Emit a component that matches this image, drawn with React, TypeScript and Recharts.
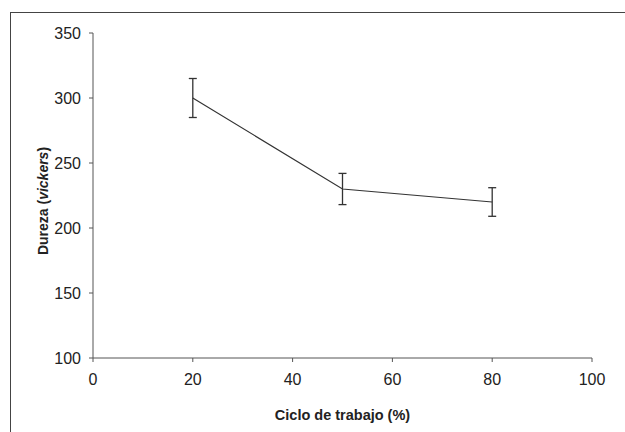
import { LineChart, Line, XAxis, YAxis, ErrorBar, Label } from "recharts";

const cycle = [20, 50, 80];
const hardness = [300, 230, 220];
const hardnessErr = [15, 12, 11];
const xTicks = [0, 20, 40, 60, 80, 100];
const yTicks = [100, 150, 200, 250, 300, 350];

const data = cycle.map((c, i) => ({ cycle: c, hardness: hardness[i], err: hardnessErr[i] }));

const FONT = "'Liberation Sans', Arial, sans-serif";
const AXIS = "#555";

const YTitle = () => (
  <text
    x={43}
    y={201}
    transform="rotate(-90 43 201)"
    textAnchor="middle"
    dominantBaseline="central"
    fontFamily={FONT}
    fontSize={14}
    fontWeight="bold"
    fill="#222"
  >
    <tspan>Dureza (</tspan>
    <tspan fontStyle="italic">vickers</tspan>
    <tspan>)</tspan>
  </text>
);

export default function App() {
  return (
    <div style={{ position: "absolute", left: 0, top: 0, width: 625, height: 432, background: "#fff", overflow: "hidden" }}>
      <div
        style={{
          position: "absolute",
          left: 10,
          top: 12,
          width: 640,
          height: 440,
          borderTop: "1.5px solid #444",
          borderLeft: "1.5px solid #444",
        }}
      />
      <LineChart
        width={625}
        height={432}
        data={data}
        margin={{ top: 33, right: 33, bottom: 0, left: 0 }}
        style={{ position: "absolute", left: 0, top: 0 }}
      >
        <XAxis
          dataKey="cycle"
          type="number"
          domain={[0, 100]}
          ticks={xTicks}
          height={74}
          stroke={AXIS}
          tickSize={4}
          tickMargin={12}
          tick={{ fill: "#222", fontSize: 16, fontFamily: FONT }}
        >
          <Label
            value="Ciclo de trabajo (%)"
            position="insideBottom"
            offset={12}
            style={{ fill: "#222", fontSize: 14.5, fontWeight: "bold", fontFamily: FONT }}
          />
        </XAxis>
        <YAxis
          type="number"
          domain={[100, 350]}
          ticks={yTicks}
          width={93}
          stroke={AXIS}
          tickSize={4}
          tickMargin={8}
          tick={{ fill: "#222", fontSize: 16, fontFamily: FONT }}
          label={{ content: () => <YTitle /> }}
        />
        <Line
          type="linear"
          dataKey="hardness"
          stroke="#333"
          strokeWidth={1.2}
          dot={false}
          isAnimationActive={false}
        >
          <ErrorBar dataKey="err" width={4} stroke="#333" strokeWidth={1.3} direction="y" isAnimationActive={false} />
        </Line>
      </LineChart>
    </div>
  );
}
